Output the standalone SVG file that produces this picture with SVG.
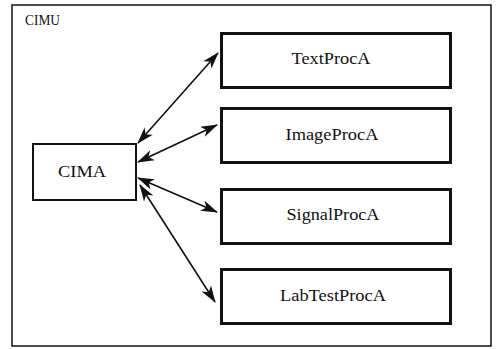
<svg xmlns="http://www.w3.org/2000/svg" width="502" height="349" viewBox="0 0 502 349">
<style>
  .frame{fill:#fff;stroke:#111;stroke-width:1.5}
  .proc{fill:#fff;stroke:#111;stroke-width:3}
  .cima{fill:#fff;stroke:#111;stroke-width:2}
  .lbl{font-family:'Liberation Serif',serif;font-size:17px;fill:#111;text-anchor:middle}
  .conn{stroke:#111;stroke-width:1.6;fill:none;marker-start:url(#ah);marker-end:url(#ah)}
</style>
<defs>
  <marker id="ah" viewBox="0 0 17 12" refX="16" refY="6" markerWidth="17" markerHeight="12" markerUnits="userSpaceOnUse" orient="auto-start-reverse">
    <path d="M0,0.5 L17,6 L0,11.5 L4.5,6 z" fill="#111"/>
  </marker>
</defs>
<rect width="502" height="349" fill="#fff"/>
<g id="CIMU">
  <rect class="frame" x="12" y="5" width="479" height="341"/>
  <text x="25" y="25" font-family="Liberation Serif, serif" font-size="15" fill="#111" textLength="35" lengthAdjust="spacingAndGlyphs">CIMU</text>
</g>
<g id="CIMA">
  <rect class="cima" x="33" y="144" width="103" height="56"/>
  <text class="lbl" x="82" y="177" textLength="48" lengthAdjust="spacingAndGlyphs">CIMA</text>
</g>
<g id="TextProcA">
  <rect class="proc" x="221.5" y="33.5" width="229" height="54"/>
  <text class="lbl" x="331" y="64" textLength="79" lengthAdjust="spacingAndGlyphs">TextProcA</text>
</g>
<g id="ImageProcA">
  <rect class="proc" x="221.5" y="108.5" width="229" height="54"/>
  <text class="lbl" x="332" y="140" textLength="93" lengthAdjust="spacingAndGlyphs">ImageProcA</text>
</g>
<g id="SignalProcA">
  <rect class="proc" x="221.5" y="189.5" width="229" height="54"/>
  <text class="lbl" x="333" y="220" textLength="93" lengthAdjust="spacingAndGlyphs">SignalProcA</text>
</g>
<g id="LabTestProcA">
  <rect class="proc" x="221.5" y="269.5" width="229" height="54"/>
  <text class="lbl" x="333" y="301" textLength="106" lengthAdjust="spacingAndGlyphs">LabTestProcA</text>
</g>
<g id="connectors">
  <line class="conn" x1="138" y1="143" x2="218" y2="53"/>
  <line class="conn" x1="138" y1="162" x2="217" y2="125"/>
  <line class="conn" x1="138" y1="178" x2="217" y2="212"/>
  <line class="conn" x1="140" y1="185" x2="215" y2="302"/>
</g>
</svg>
